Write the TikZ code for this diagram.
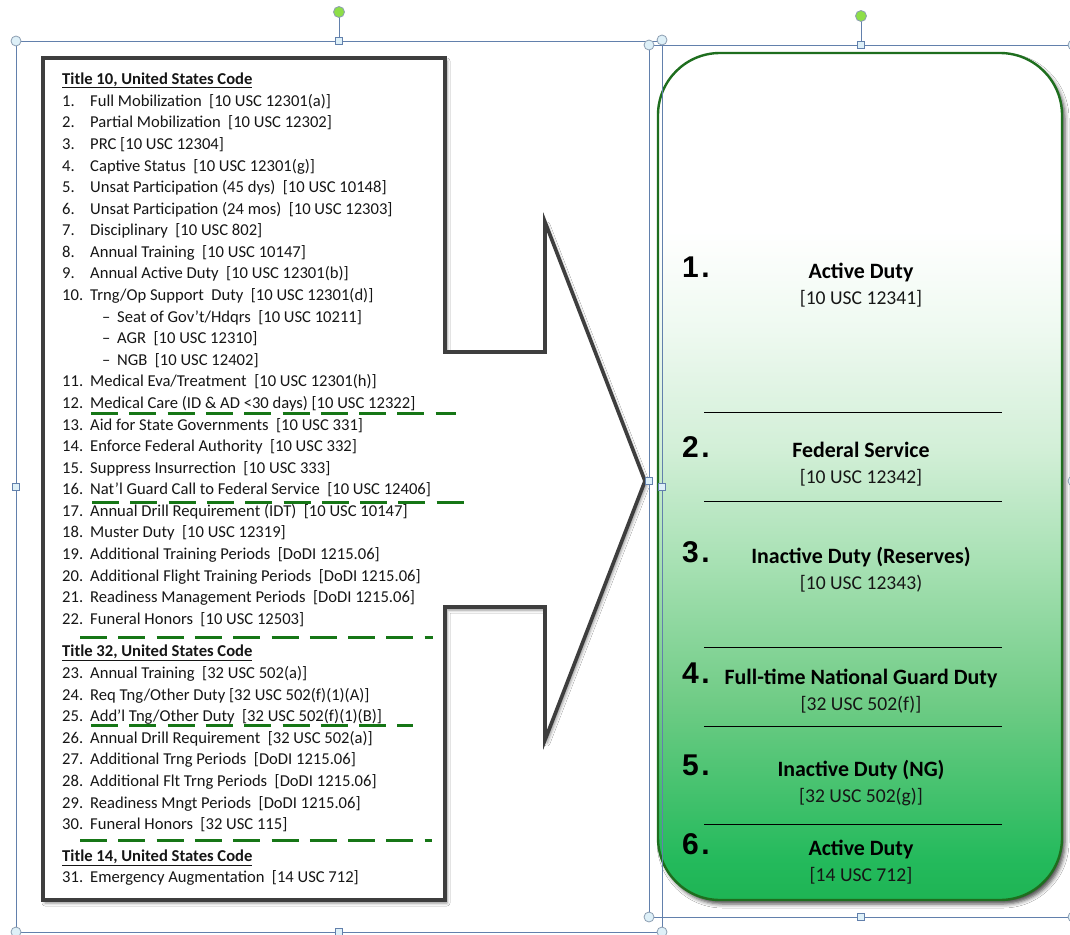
\documentclass[tikz,border=0pt]{standalone}
\usepackage{fontspec}
\setmainfont{Carlito}
\newfontfamily\numfont{Liberation Sans}
\usetikzlibrary{shadows.blur}

\definecolor{ink}{RGB}{22,22,22}
\definecolor{calloutgray}{RGB}{62,62,62}
\definecolor{dashgreen}{RGB}{22,118,22}
\definecolor{boxedge}{RGB}{30,110,30}
\definecolor{selblue}{RGB}{98,128,172}
\definecolor{handlefill}{RGB}{222,240,248}
\definecolor{handleedge}{RGB}{140,158,178}
\definecolor{rotgreen}{RGB}{142,222,72}
\definecolor{dg0}{RGB}{30,180,84}
\definecolor{dg1}{RGB}{36,186,92}
\definecolor{dg2}{RGB}{112,204,134}
\definecolor{dg3}{RGB}{168,225,180}
\definecolor{dg4}{RGB}{210,239,215}
\definecolor{dg5}{RGB}{238,249,240}

\pgfdeclareverticalshading{dutygrad}{100bp}{color(0bp)=(dg0); color(25bp)=(dg0);
  color(27.4bp)=(dg1); color(36.8bp)=(dg2); color(45bp)=(dg3); color(51.6bp)=(dg4);
  color(58.6bp)=(dg5); color(64.5bp)=(white); color(100bp)=(white)}

\newcommand\gap{\hspace{0.45em}}
\newcommand\lrow[4]{%
  \node[lnum] (n#1) at (62,#2) {#3};
  \node[ltxt] (t#1) at (90,#2) {#4};}
\newcommand\srow[3]{%
  \node[ltxt] (d#1) at (102,#2) {–};
  \node[ltxt] (s#1) at (117,#2) {#3};}
\newcommand\duty[5]{%
  \node[dutynum] (k#1) at (682,#2) {#1\kern2.5pt.};
  \node[dutyname] (h#1) at (861,#3) {#4};
  \node[dutycite] (c#1) at (861,#3+26) {#5};}

\begin{document}
\begin{tikzpicture}[x=1pt,y=-1pt,
  lnum/.style={anchor=base west, inner sep=0pt, text=ink, font=\fontsize{16.6}{19}\selectfont},
  ltxt/.style={lnum},
  ltitle/.style={lnum, font=\fontsize{16.6}{19}\selectfont\bfseries},
  dutynum/.style={anchor=base west, inner sep=0pt, font=\numfont\fontsize{30}{36}\selectfont\bfseries},
  dutyname/.style={anchor=base, inner sep=0pt, font=\fontsize{21.9}{26}\selectfont\bfseries},
  dutycite/.style={anchor=base, inner sep=0pt, text=ink, font=\fontsize{19.6}{23}\selectfont},
  greendash/.style={draw=dashgreen, line width=3pt, dash pattern=on 27pt off 11.3pt},
  sepline/.style={draw=black, line width=0.9pt},
  callout/.style={draw=calloutgray, fill=white, line width=3.6pt, line join=miter,
    blur shadow={shadow xshift=2pt, shadow yshift=-3pt, shadow blur radius=3pt, shadow opacity=45}},
  dutybox/.style={draw=boxedge, line width=2.4pt, rounded corners=62pt, shading=dutygrad,
    minimum width=404pt, minimum height=847pt, inner sep=0pt,
    blur shadow={shadow xshift=3pt, shadow yshift=-4pt, shadow blur radius=4pt, shadow opacity=70}},
  selline/.style={draw=selblue, line width=0.9pt},
  hcircle/.style={draw=handleedge, fill=handlefill, line width=0.8pt},
  hsquare/.style={draw=selblue, fill=handlefill, line width=0.8pt},
  hrot/.style={draw=handleedge, fill=rotgreen, line width=0.8pt}]

\useasboundingbox (0,0) rectangle (1070,934);
\clip (0,0) rectangle (1070,934);
\fill[white] (0,0) rectangle (1070,934);

% list panel with its arrow pointing right
\draw[callout] (43,58) -- (445,58) -- (445,352) -- (545,352) -- (545,222) -- (645,481)
  -- (545,740) -- (545,607) -- (445,607) -- (445,900) -- (43,900) -- cycle;

% Title 10
\node[ltitle] (title10) at (62,84) {\underline{Title 10, United States Code}};
\lrow{1}{106.3}{1.}{Full Mobilization\gap[10 USC 12301(a)]}
\lrow{2}{127.9}{2.}{Partial Mobilization\gap[10 USC 12302]}
\lrow{3}{149.5}{3.}{PRC [10 USC 12304]}
\lrow{4}{171.0}{4.}{Captive Status\gap[10 USC 12301(g)]}
\lrow{5}{192.6}{5.}{Unsat Participation (45 dys)\gap[10 USC 10148]}
\lrow{6}{214.2}{6.}{Unsat Participation (24 mos)\gap[10 USC 12303]}
\lrow{7}{235.8}{7.}{Disciplinary\gap[10 USC 802]}
\lrow{8}{257.4}{8.}{Annual Training\gap[10 USC 10147]}
\lrow{9}{278.9}{9.}{Annual Active Duty\gap[10 USC 12301(b)]}
\lrow{10}{300.5}{10.}{Trng/Op Support\gap Duty\gap[10 USC 12301(d)]}
\srow{a}{322.1}{Seat of Gov’t/Hdqrs\gap[10 USC 10211]}
\srow{b}{343.7}{AGR\gap[10 USC 12310]}
\srow{c}{365.3}{NGB\gap[10 USC 12402]}
\lrow{11}{386.8}{11.}{Medical Eva/Treatment\gap[10 USC 12301(h)]}
\lrow{12}{408.4}{12.}{Medical Care (ID \& AD <30 days) [10 USC 12322]}
\lrow{13}{430.0}{13.}{Aid for State Governments\gap[10 USC 331]}
\lrow{14}{451.6}{14.}{Enforce Federal Authority\gap[10 USC 332]}
\lrow{15}{473.2}{15.}{Suppress Insurrection\gap[10 USC 333]}
\lrow{16}{494.7}{16.}{Nat’l Guard Call to Federal Service\gap[10 USC 12406]}
\lrow{17}{516.3}{17.}{Annual Drill Requirement (IDT)\gap[10 USC 10147]}
\lrow{18}{537.9}{18.}{Muster Duty\gap[10 USC 12319]}
\lrow{19}{559.5}{19.}{Additional Training Periods\gap[DoDI 1215.06]}
\lrow{20}{581.1}{20.}{Additional Flight Training Periods\gap[DoDI 1215.06]}
\lrow{21}{602.6}{21.}{Readiness Management Periods\gap[DoDI 1215.06]}
\lrow{22}{624.2}{22.}{Funeral Honors\gap[10 USC 12503]}

% Title 32
\node[ltitle] (title32) at (62,656.6) {\underline{Title 32, United States Code}};
\lrow{23}{678.5}{23.}{Annual Training\gap[32 USC 502(a)]}
\lrow{24}{700.1}{24.}{Req Tng/Other Duty [32 USC 502(f)(1)(A)]}
\lrow{25}{721.7}{25.}{Add’l Tng/Other Duty\gap[32 USC 502(f)(1)(B)]}
\lrow{26}{743.3}{26.}{Annual Drill Requirement\gap[32 USC 502(a)]}
\lrow{27}{764.9}{27.}{Additional Trng Periods\gap[DoDI 1215.06]}
\lrow{28}{786.5}{28.}{Additional Flt Trng Periods\gap[DoDI 1215.06]}
\lrow{29}{808.1}{29.}{Readiness Mngt Periods\gap[DoDI 1215.06]}
\lrow{30}{829.7}{30.}{Funeral Honors\gap[32 USC 115]}

% Title 14
\node[ltitle] (title14) at (62,861.5) {\underline{Title 14, United States Code}};
\lrow{31}{882.6}{31.}{Emergency Augmentation\gap[14 USC 712]}

% green dashed dividers
\draw[greendash] (91,413) -- (456,413);
\draw[greendash] (92,502) -- (464,502);
\draw[greendash] (80,637) -- (433,637);
\draw[greendash] (91,725) -- (413,725);
\draw[greendash] (80,840) -- (432,840);

% duty status box
\node[dutybox] (dutybox) at (860,476.5) {};
\duty{1}{277}{278}{Active Duty}{[10 USC 12341]}
\duty{2}{457}{457}{Federal Service}{[10 USC 12342]}
\duty{3}{562}{563}{Inactive Duty (Reserves)}{[10 USC 12343)}
\duty{4}{683}{684}{Full-time National Guard Duty}{[32 USC 502(f)]}
\duty{5}{775}{776}{Inactive Duty (NG)}{[32 USC 502(g)]}
\duty{6}{854}{855}{Active Duty}{[14 USC 712]}
\foreach \yy in {412,501,647,726,824}
  \draw[sepline] (704,\yy) -- (1002,\yy);

% selection frames and handles
\draw[selline] (16,41) -- (662,41);
\draw[selline] (16,41) -- (16,940);
\draw[selline] (662,41) -- (662,940);
\draw[selline] (16,932) -- (662,932);
\draw[selline] (649,45) -- (1080,45);
\draw[selline] (649,45) -- (649,917) -- (1080,917);
\draw[selline] (339,41) -- (339,17);
\draw[selline] (861,45) -- (861,21);
\foreach \p in {(16,41),(662,40),(16,932),(662,932),(649,45),(1073,45),(649,917),(1073,917),(1073,481)}
  \draw[hcircle] \p circle (5pt);
\foreach \p in {(339,41),(16,487),(662,487),(339,932),(861,45),(649,481),(861,917)}
  \draw[hsquare] \p ++(-3.5,-3.5) rectangle ++(7,7);
\draw[hrot] (339,12) circle (5.5pt);
\draw[hrot] (861,16) circle (5.5pt);
\end{tikzpicture}
\end{document}
